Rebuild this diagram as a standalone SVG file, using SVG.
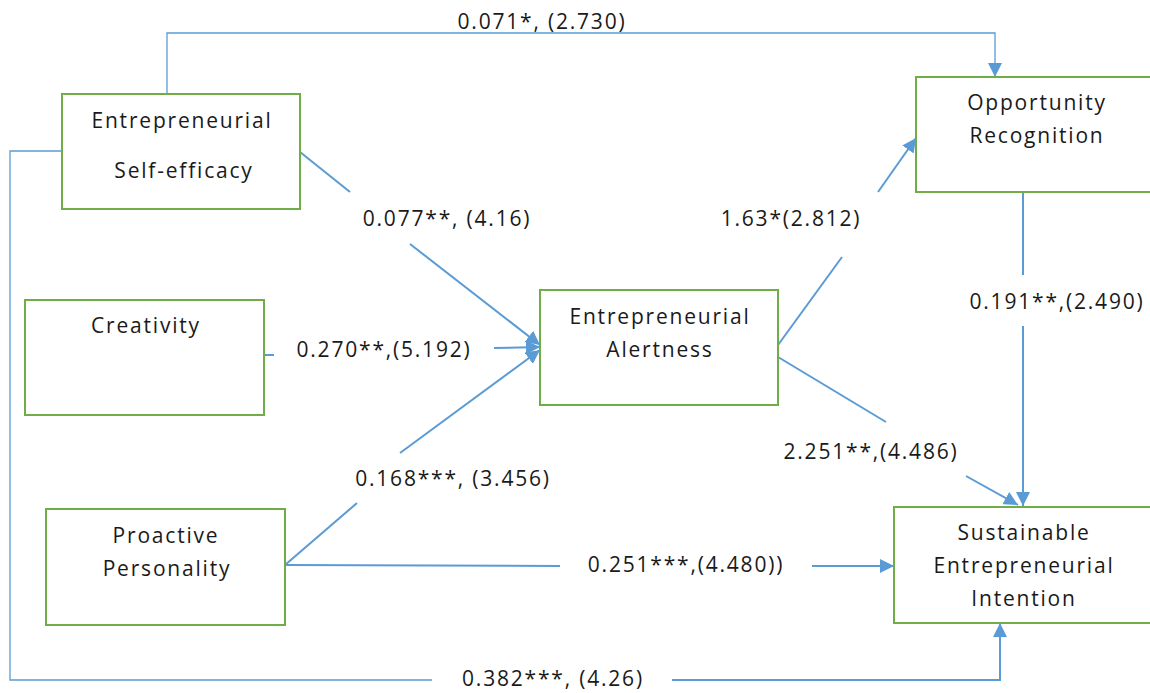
<svg xmlns="http://www.w3.org/2000/svg" width="1150" height="693" viewBox="0 0 1150 693">
<style>
.box{fill:#fff;stroke:#70AD47;stroke-width:2}
.t{font-family:"Open Sans","Liberation Sans",sans-serif;font-size:21px;letter-spacing:1.8px;fill:#1a1a1a;text-anchor:middle}
.c{fill:none;stroke:#5B9BD5;stroke-width:2}
.thin{stroke-width:1.3}
</style>
<defs>
<marker id="ah" markerUnits="userSpaceOnUse" markerWidth="16" markerHeight="14" refX="14" refY="7" orient="auto">
<path d="M0,0 L14,7 L0,14 Z" fill="#5B9BD5"/>
</marker>
</defs>
<rect width="1150" height="693" fill="#fff"/>
<g id="connectors">
<polyline class="c thin" points="167,94 167,33 995,33 995,77" marker-end="url(#ah)"/>
<polyline class="c thin" points="62,151 10,151 10,680 432,680"/>
<polyline class="c" points="672,680 1000,680 1000,623" marker-end="url(#ah)"/>
<line class="c" x1="300" y1="152" x2="350" y2="192"/>
<line class="c" x1="410" y1="244" x2="540" y2="345" marker-end="url(#ah)"/>
<line class="c" x1="264" y1="355" x2="274" y2="355"/>
<line class="c" x1="494" y1="348" x2="540" y2="347" marker-end="url(#ah)"/>
<line class="c" x1="285" y1="565" x2="357" y2="503"/>
<line class="c" x1="400" y1="453" x2="540" y2="350" marker-end="url(#ah)"/>
<line class="c" x1="285" y1="565" x2="560" y2="566"/>
<line class="c" x1="812" y1="566" x2="894" y2="566" marker-end="url(#ah)"/>
<line class="c" x1="778" y1="345" x2="842" y2="257"/>
<line class="c" x1="878" y1="192" x2="916" y2="138" marker-end="url(#ah)"/>
<line class="c" x1="778" y1="357" x2="886" y2="422"/>
<line class="c" x1="966" y1="476" x2="1018" y2="505" marker-end="url(#ah)"/>
<line class="c" x1="1023" y1="192" x2="1023" y2="275"/>
<line class="c" x1="1023" y1="326" x2="1023" y2="506" marker-end="url(#ah)"/>
<text class="t" x="542" y="29">0.071*, (2.730)</text>
<text class="t" x="553" y="686">0.382***, (4.26)</text>
<text class="t" x="447" y="226">0.077**, (4.16)</text>
<text class="t" x="384" y="357">0.270**,(5.192)</text>
<text class="t" x="453" y="486">0.168***, (3.456)</text>
<text class="t" x="686" y="572">0.251***,(4.480))</text>
<text class="t" x="791" y="226">1.63*(2.812)</text>
<text class="t" x="871" y="459">2.251**,(4.486)</text>
<text class="t" x="1057" y="309">0.191**,(2.490)</text>
</g>
<g id="self-efficacy">
<rect class="box" x="62" y="94" width="238" height="115"/>
<text class="t" x="182" y="128">Entrepreneurial</text>
<text class="t" x="184" y="178">Self-efficacy</text>
</g>
<g id="creativity">
<rect class="box" x="25" y="300" width="239" height="115"/>
<text class="t" x="146" y="333">Creativity</text>
</g>
<g id="proactive">
<rect class="box" x="46" y="509" width="239" height="116"/>
<text class="t" x="166" y="543">Proactive</text>
<text class="t" x="167" y="576">Personality</text>
</g>
<g id="alertness">
<rect class="box" x="540" y="290" width="238" height="115"/>
<text class="t" x="660" y="324">Entrepreneurial</text>
<text class="t" x="660" y="357">Alertness</text>
</g>
<g id="opportunity">
<rect class="box" x="916" y="77" width="236" height="115"/>
<text class="t" x="1037" y="110">Opportunity</text>
<text class="t" x="1037" y="143">Recognition</text>
</g>
<g id="sei">
<rect class="box" x="894" y="507" width="258" height="116"/>
<text class="t" x="1024" y="540">Sustainable</text>
<text class="t" x="1024" y="573">Entrepreneurial</text>
<text class="t" x="1024" y="606">Intention</text>
</g>
</svg>
